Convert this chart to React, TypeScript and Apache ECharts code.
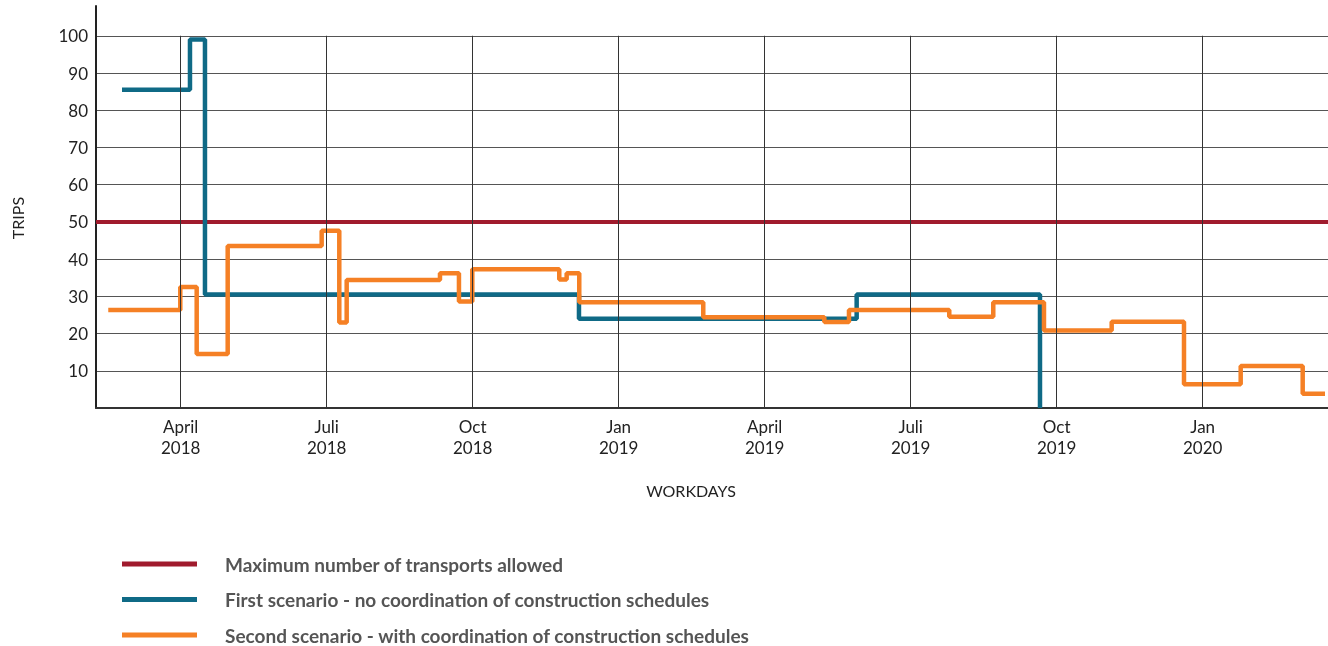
import React, { useEffect, useRef } from 'react';
import * as echarts from 'echarts';

// x values are months counted from 1 Jan 2018 (3 = April 2018)
const quarterTicks = [3, 6, 9, 12, 15, 18, 21, 24];
const quarterLabels = ['April\n2018', 'Juli\n2018', 'Oct\n2018', 'Jan\n2019', 'April\n2019', 'Juli\n2019', 'Oct\n2019', 'Jan\n2020'];
const xMin = 1.26;
const xMax = 26.575;
const yTicks = [10, 20, 30, 40, 50, 60, 70, 80, 90, 100];

const maxAllowed = 50;

const firstX = [1.794, 3.191, 3.499, 11.184, 16.89, 20.657];
const firstY = [85.5, 99, 30.5, 24, 30.5, 0];

const secondX = [1.512, 2.992, 3.329, 3.966, 5.897, 6.259, 6.411, 8.328, 8.718, 8.992, 10.779, 10.931, 11.19, 13.738, 16.225, 16.732, 18.793, 19.697, 20.739, 22.13, 23.616, 24.781, 26.055, 26.513];
const secondY = [26.3, 32.5, 14.5, 43.5, 47.6, 23, 34.4, 36.2, 28.6, 37.3, 34.5, 36.2, 28.4, 24.4, 23.1, 26.3, 24.5, 28.4, 20.8, 23.2, 6.4, 11.3, 3.8, 3.8];

const names = [
  'Maximum number of transports allowed',
  'First scenario - no coordination of construction schedules',
  'Second scenario - with coordination of construction schedules',
];

const FONT = 'Lato';

export default function App() {
  const ref = useRef<HTMLDivElement>(null);
  useEffect(() => {
    if (!ref.current) return;
    const chart = echarts.init(ref.current, undefined, { renderer: 'svg' });
    const zip = (xs: number[], ys: number[]) => xs.map((x, i) => [x, ys[i]]);
    chart.setOption({
      animation: false,
      grid: { left: 96, right: 0, top: 6, bottom: 238, containLabel: false },
      legend: {
        orient: 'vertical',
        left: 122,
        top: 554,
        padding: 0,
        height: 92,
        itemWidth: 75,
        itemHeight: 5,
        itemGap: 15.5,
        icon: 'rect',
        data: names,
        textStyle: {
          fontFamily: FONT,
          fontSize: 19,
          fontWeight: 'bold',
          color: '#555',
          lineHeight: 20,
          padding: [0, 0, 0, 23],
        },
      },
      xAxis: {
        type: 'value',
        min: xMin,
        max: xMax,
        axisLine: { show: true, onZero: false, lineStyle: { color: '#333', width: 2 } },
        axisTick: { show: false },
        splitLine: { show: false },
        axisLabel: {
          customValues: quarterTicks,
          formatter: (v: number) => {
            const i = quarterTicks.findIndex((t) => Math.abs(t - v) < 1e-6);
            return i >= 0 ? quarterLabels[i] : '';
          },
          fontFamily: FONT,
          fontSize: 17,
          color: '#222',
          lineHeight: 21,
          margin: 8,
        },
      },
      yAxis: {
        type: 'value',
        min: 0,
        max: 108,
        interval: 10,
        axisLine: { show: true, lineStyle: { color: '#222', width: 2 } },
        axisTick: { show: false },
        axisLabel: {
          formatter: (v: number) => (yTicks.includes(v) ? String(v) : ''),
          showMaxLabel: false,
          fontFamily: FONT,
          fontSize: 17,
          color: '#222',
          margin: 8,
        },
        splitLine: { show: true, showMinLine: false, showMaxLine: false, lineStyle: { color: '#555', width: 1 } },
      },
      graphic: [
        {
          type: 'text',
          x: 17,
          y: 218,
          rotation: Math.PI / 2,
          style: { text: 'TRIPS', font: `16px ${FONT}`, fill: '#222', align: 'center', verticalAlign: 'middle' },
        },
        {
          type: 'text',
          x: 691,
          y: 490,
          style: { text: 'WORKDAYS', font: `16px ${FONT}`, fill: '#222', align: 'center', verticalAlign: 'middle' },
        },
      ],
      series: [
        {
          type: 'line',
          name: 'grid',
          data: [],
          z: 1,
          silent: true,
          markLine: {
            silent: true,
            symbol: 'none',
            label: { show: false },
            lineStyle: { color: '#333', width: 1, type: 'solid' },
            data: quarterTicks.map((t) => [{ coord: [t, 0] }, { coord: [t, 100] }]),
          },
        },
        {
          type: 'line',
          name: names[0],
          data: [[xMin, maxAllowed], [xMax, maxAllowed]],
          symbol: 'none',
          z: 2,
          color: '#a01b2d',
          lineStyle: { color: '#a01b2d', width: 4 },
        },
        {
          type: 'line',
          name: names[1],
          step: 'end',
          data: zip(firstX, firstY),
          symbol: 'none',
          z: 3,
          color: '#0f6a86',
          lineStyle: { color: '#0f6a86', width: 4.5 },
        },
        {
          type: 'line',
          name: names[2],
          step: 'end',
          data: zip(secondX, secondY),
          symbol: 'none',
          z: 4,
          color: '#f58025',
          lineStyle: { color: '#f58025', width: 4.5 },
        },
      ],
    });
    return () => chart.dispose();
  }, []);
  return <div ref={ref} style={{ position: 'fixed', left: 0, top: 0, width: 1328, height: 646 }} />;
}
